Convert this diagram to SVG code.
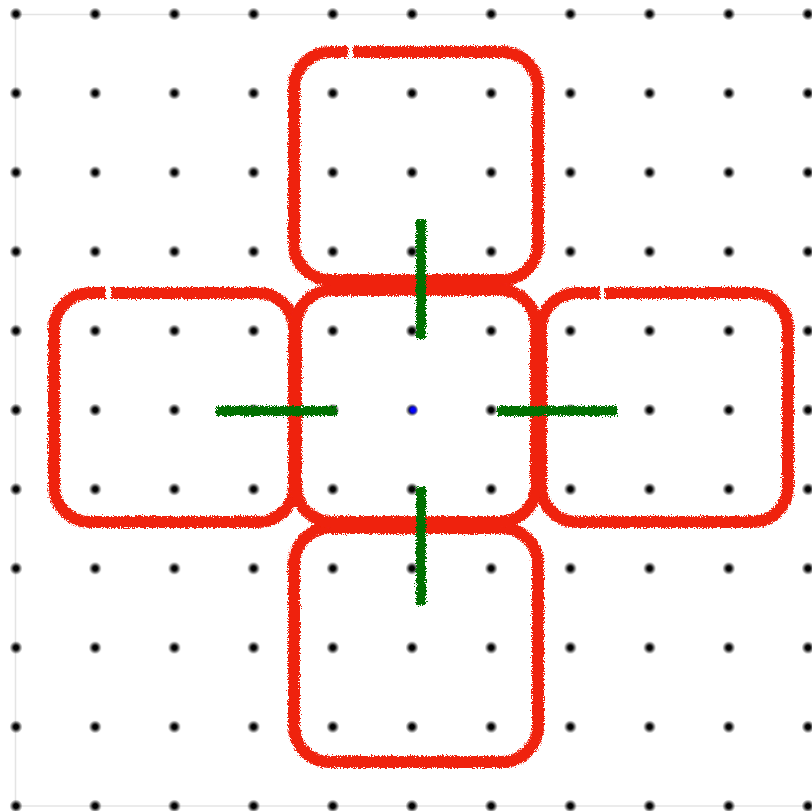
<svg xmlns="http://www.w3.org/2000/svg" width="812" height="811" viewBox="0 0 812 811">
  <defs>
    <radialGradient id="dotg">
      <stop offset="0" stop-color="#000"/>
      <stop offset="0.35" stop-color="#000"/>
      <stop offset="1" stop-color="#000" stop-opacity="0"/>
    </radialGradient>
    <radialGradient id="blueg">
      <stop offset="0" stop-color="#00f"/>
      <stop offset="0.4" stop-color="#00f"/>
      <stop offset="1" stop-color="#00f" stop-opacity="0"/>
    </radialGradient>
    <pattern id="grid" patternUnits="userSpaceOnUse" x="-23.6" y="-25.6" width="79.2" height="79.2">
      <circle cx="39.6" cy="39.6" r="6.5" fill="url(#dotg)"/>
    </pattern>
    <filter id="rough" filterUnits="userSpaceOnUse" x="0" y="0" width="812" height="811">
      <feTurbulence type="fractalNoise" baseFrequency="0.7" numOctaves="3" seed="5" result="n"/>
      <feDisplacementMap in="SourceGraphic" in2="n" scale="6" xChannelSelector="R" yChannelSelector="G"/>
    </filter>
  </defs>
  <style>
    .box{fill:none;stroke:#ef2210;stroke-width:12;stroke-linecap:butt;stroke-linejoin:round;filter:url(#rough)}
    .conn{stroke:#007000;stroke-width:10;stroke-linecap:butt;filter:url(#rough)}
  </style>
  <rect width="812" height="811" fill="#fff"/>
  <g id="frame" stroke="#e4e4e4" stroke-width="1.5" fill="none">
    <line x1="15.5" y1="14" x2="15.5" y2="811"/>
    <line x1="15" y1="14.5" x2="812" y2="14.5"/>
    <line x1="15" y1="806" x2="812" y2="806"/>
  </g>
  <rect id="dots" x="0" y="0" width="812" height="811" fill="url(#grid)"/>
  <g id="node-top"><path class="box" d="M353,52 H502 A36,36 0 0 1 538,88 V244 A36,36 0 0 1 502,280 H330 A36,36 0 0 1 294,244 V88 A36,36 0 0 1 330,52 H348"/></g>
  <g id="node-left"><path class="box" d="M111,293 H258 A36,36 0 0 1 294,329 V486 A36,36 0 0 1 258,522 H90 A36,36 0 0 1 54,486 V329 A36,36 0 0 1 90,293 H106"/></g>
  <g id="node-right"><path class="box" d="M605,293 H752 A36,36 0 0 1 788,329 V486 A36,36 0 0 1 752,522 H577 A36,36 0 0 1 541,486 V329 A36,36 0 0 1 577,293 H600"/></g>
  <g id="node-bottom"><rect class="box" x="294" y="528" width="244" height="234" rx="36"/></g>
  <g id="node-center"><rect class="box" x="296" y="290" width="240" height="232" rx="36"/></g>
  <g id="connectors">
    <line class="conn" x1="421" y1="219" x2="421" y2="339"/>
    <line class="conn" x1="421" y1="487" x2="421" y2="605"/>
    <line class="conn" x1="216" y1="411" x2="337" y2="411"/>
    <line class="conn" x1="497" y1="411" x2="617" y2="411"/>
  </g>
  <circle id="origin" cx="413" cy="410" r="5" fill="url(#blueg)"/>
</svg>
